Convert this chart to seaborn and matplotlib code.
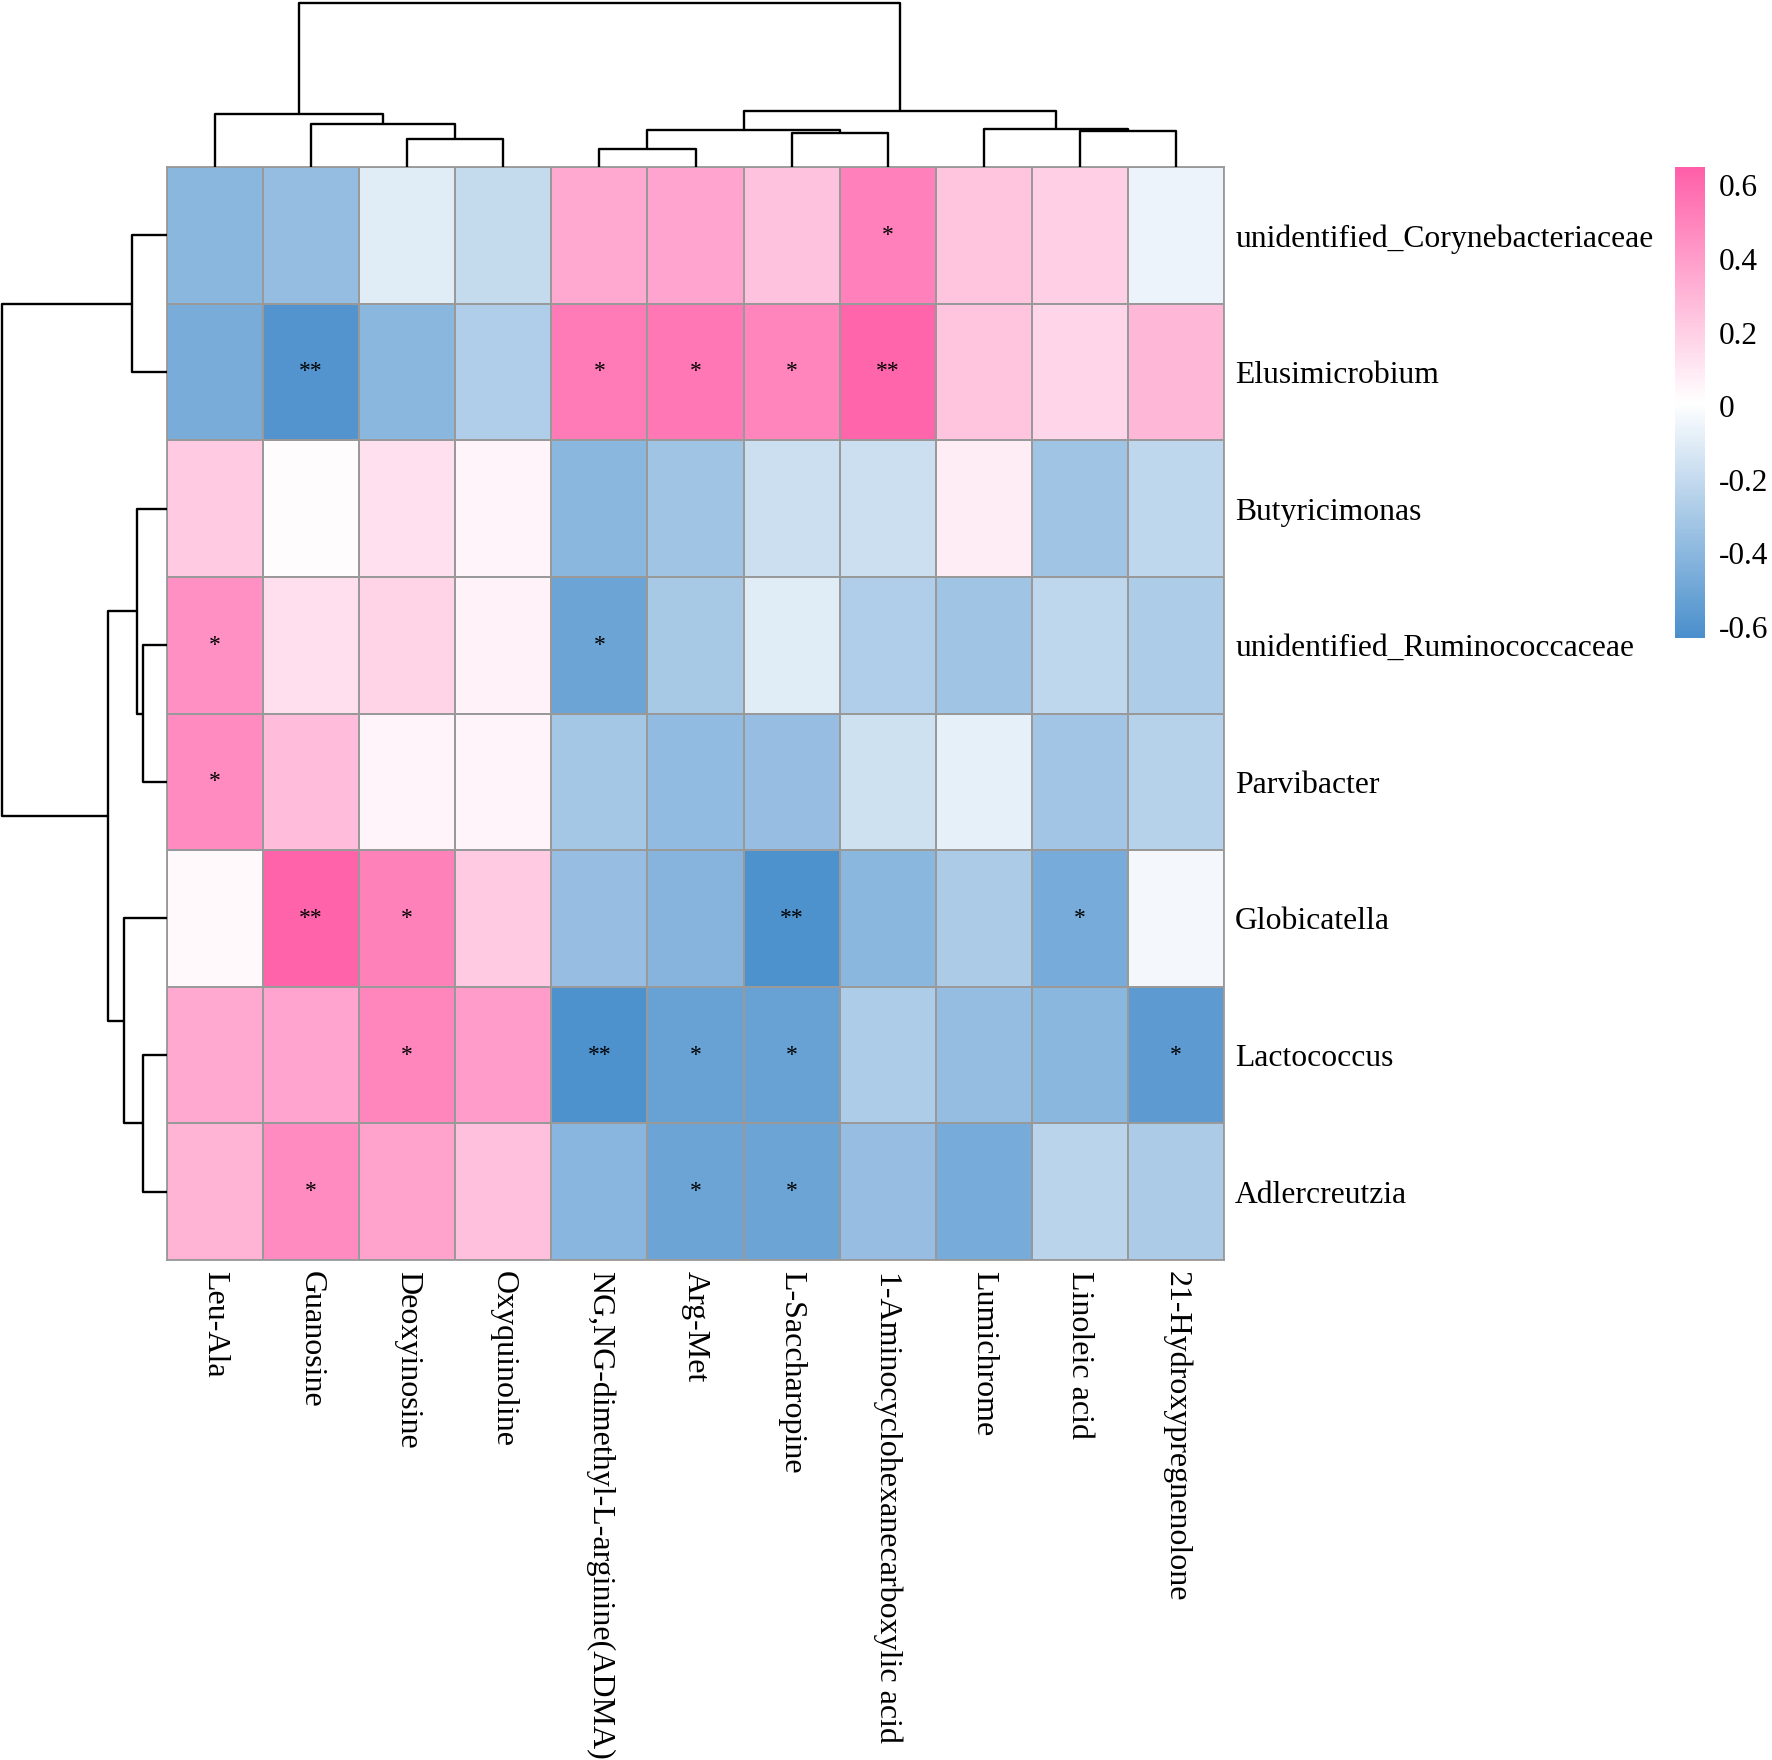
import numpy as np
import pandas as pd
import matplotlib
matplotlib.use("Agg")
import matplotlib.pyplot as plt
import seaborn as sns
from matplotlib.colors import LinearSegmentedColormap

# Row (genus) and column (metabolite) labels, in display order
rows = [
    "unidentified_Corynebacteriaceae",
    "Elusimicrobium",
    "Butyricimonas",
    "unidentified_Ruminococcaceae",
    "Parvibacter",
    "Globicatella",
    "Lactococcus",
    "Adlercreutzia",
]
cols = [
    "Leu-Ala",
    "Guanosine",
    "Deoxyinosine",
    "Oxyquinoline",
    "NG,NG-dimethyl-L-arginine(ADMA)",
    "Arg-Met",
    "L-Saccharopine",
    "1-Aminocyclohexanecarboxylic acid",
    "Lumichrome",
    "Linoleic acid",
    "21-Hydroxypregnenolone",
]

# correlation values (estimated from colours)
corr_coryne = [-0.40, -0.37, -0.10, -0.20, 0.35, 0.37, 0.25, 0.52, 0.24, 0.20, -0.06]
corr_elusi = [-0.46, -0.60, -0.40, -0.27, 0.54, 0.55, 0.50, 0.62, 0.24, 0.17, 0.30]
corr_butyr = [0.22, 0.02, 0.13, 0.05, -0.40, -0.33, -0.17, -0.17, 0.08, -0.33, -0.22]
corr_rumino = [0.45, 0.14, 0.18, 0.06, -0.51, -0.30, -0.10, -0.27, -0.33, -0.22, -0.28]
corr_parvi = [0.47, 0.27, 0.05, 0.05, -0.31, -0.38, -0.36, -0.16, -0.08, -0.32, -0.25]
corr_globi = [0.03, 0.63, 0.51, 0.22, -0.36, -0.42, -0.62, -0.40, -0.29, -0.47, -0.03]
corr_lacto = [0.35, 0.37, 0.49, 0.40, -0.62, -0.52, -0.52, -0.28, -0.37, -0.40, -0.56]
corr_adler = [0.31, 0.47, 0.38, 0.26, -0.41, -0.51, -0.51, -0.36, -0.47, -0.24, -0.29]

# significance marks
sig_coryne = ["", "", "", "", "", "", "", "*", "", "", ""]
sig_elusi = ["", "**", "", "", "*", "*", "*", "**", "", "", ""]
sig_butyr = ["", "", "", "", "", "", "", "", "", "", ""]
sig_rumino = ["*", "", "", "", "*", "", "", "", "", "", ""]
sig_parvi = ["*", "", "", "", "", "", "", "", "", "", ""]
sig_globi = ["", "**", "*", "", "", "", "**", "", "", "*", ""]
sig_lacto = ["", "", "*", "", "**", "*", "*", "", "", "", "*"]
sig_adler = ["", "*", "", "", "", "*", "*", "", "", "", ""]

# dendrogram merges (scipy style: child a, child b, height in px)
col_merge_a = [2, 1, 0, 4, 6, 14, 9, 8, 16, 13]
col_merge_b = [3, 11, 12, 5, 7, 15, 10, 17, 18, 19]
col_merge_h = [28, 43, 53, 18, 34, 37, 36, 38, 56, 164]

row_merge_a = [0, 3, 2, 6, 5, 10, 8]
row_merge_b = [1, 4, 9, 7, 11, 12, 13]
row_merge_h = [35, 24, 30, 24, 43, 59, 165]

corr = pd.DataFrame(
    [corr_coryne, corr_elusi, corr_butyr, corr_rumino,
     corr_parvi, corr_globi, corr_lacto, corr_adler],
    index=rows, columns=cols,
)
stars = np.array(
    [sig_coryne, sig_elusi, sig_butyr, sig_rumino,
     sig_parvi, sig_globi, sig_lacto, sig_adler]
)


def dendro_segments(n, a_list, b_list, h_list):
    """Return U-shaped segments (pos, height) for each merge."""
    pos = {i: i + 0.5 for i in range(n)}
    hgt = {i: 0.0 for i in range(n)}
    segs = []
    for k, (a, b, h) in enumerate(zip(a_list, b_list, h_list)):
        xa, xb = pos[a], pos[b]
        segs.append(([xa, xa, xb, xb], [hgt[a], h, h, hgt[b]]))
        pos[n + k] = (xa + xb) / 2
        hgt[n + k] = h
    return segs


W, H = 1772, 1760
fig = plt.figure(figsize=(W / 100, H / 100), dpi=100)
plt.rcParams["font.family"] = ["Liberation Serif", "DejaVu Serif"]

hm_l, hm_r, hm_t, hm_b = 167, 1224, 167, 1260
ax = fig.add_axes([hm_l / W, 1 - hm_b / H, (hm_r - hm_l) / W, (hm_b - hm_t) / H])
cax = fig.add_axes([1675 / W, 1 - 638 / H, 30 / W, 471 / H])
ax_top = fig.add_axes([hm_l / W, 1 - hm_t / H, (hm_r - hm_l) / W, hm_t / H])
ax_left = fig.add_axes([0, 1 - hm_b / H, hm_l / W, (hm_b - hm_t) / H])

cmap = LinearSegmentedColormap.from_list("bp", ["#4A8FCC", "#FFFFFF", "#FF5FA8"])

sns.heatmap(
    corr,
    ax=ax,
    cbar_ax=cax,
    cmap=cmap,
    vmin=-0.63,
    vmax=0.65,
    linewidths=1.3,
    linecolor="#999999",
    annot=stars,
    fmt="",
    annot_kws={"size": 17, "color": "black"},
)

# outer border
for s in ax.spines.values():
    s.set_visible(True)
    s.set_color("#999999")
    s.set_linewidth(1.3)

ax.yaxis.tick_right()
ax.set_yticklabels(rows, rotation=0, ha="left", fontsize=22.8)
ax.set_xticklabels(cols, rotation=270, ha="center", va="top", fontsize=23)
ax.tick_params(axis="both", length=0)
ax.tick_params(axis="y", pad=8)
ax.tick_params(axis="x", pad=8)
for lbl in ax.get_xticklabels():
    lbl.set_x(lbl.get_position()[0])
ax.set_xlabel("")
ax.set_ylabel("")

# colorbar
cbar = ax.collections[0].colorbar
cbar.set_ticks([-0.6, -0.4, -0.2, 0, 0.2, 0.4, 0.6])
cbar.set_ticklabels(["-0.6", "-0.4", "-0.2", "0", "0.2", "0.4", "0.6"])
cbar.ax.tick_params(length=0, labelsize=22.5, pad=10)
cbar.outline.set_visible(False)

# column dendrogram
for xs, ys in dendro_segments(len(cols), col_merge_a, col_merge_b, col_merge_h):
    ax_top.plot(xs, ys, color="black", lw=1.7, solid_capstyle="butt")
ax_top.set_xlim(0, len(cols))
ax_top.set_ylim(0, hm_t)
ax_top.axis("off")

# row dendrogram
for xs, ys in dendro_segments(len(rows), row_merge_a, row_merge_b, row_merge_h):
    ax_left.plot(ys, xs, color="black", lw=1.7, solid_capstyle="butt")
ax_left.set_ylim(len(rows), 0)
ax_left.set_xlim(hm_l, 0)
ax_left.axis("off")

fig.savefig("out.png", dpi=100, facecolor="white")
plt.close(fig)
